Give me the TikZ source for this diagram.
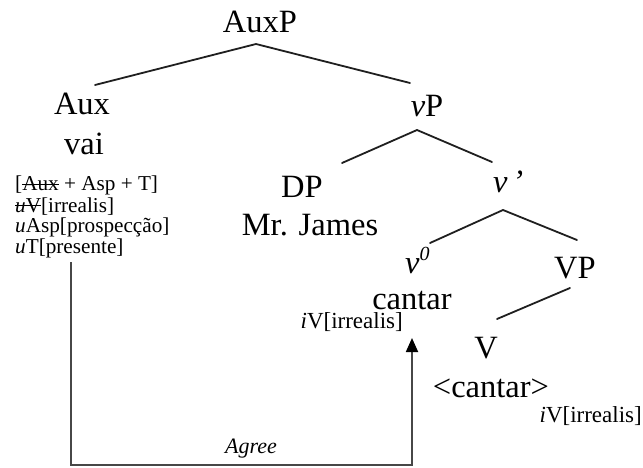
\documentclass[tikz,border=0pt]{standalone}
\usepackage{fontspec}
\setmainfont{Liberation Serif}
\usetikzlibrary{arrows.meta}

% struck-through text
\newcommand\strk[1]{\setbox0\hbox{#1}\rlap{\rule[0.27em]{\wd0}{0.075em}}\box0}

\tikzset{
  lbl/.style={inner sep=0pt, anchor=base, font=\fontsize{32.5}{36}\selectfont},
  feat/.style={inner sep=0pt, anchor=base west, font=\fontsize{21.2}{22}\selectfont},
  ifeat/.style={inner sep=0pt, font=\fontsize{23}{24}\selectfont},
  branch/.style={line width=1.8pt, draw=black!88, line cap=round},
  agreeline/.style={line width=1.8pt, draw=black!72, -{Triangle[length=14pt,width=12pt,fill=black,color=black]}},
}

\begin{document}
\begin{tikzpicture}[x=1pt,y=-1pt]
\useasboundingbox (0,0) rectangle (643,468);

% category and word labels
\node[lbl] (auxp)  at (260,33)  {AuxP};
\node[lbl] (aux)   at (82,115)  {Aux};
\node[lbl] (vai)   at (84,155)  {vai};
\node[lbl] (vp)    at (427,117) {\textit{v}P};
\node[lbl] (dp)    at (302,197) {DP};
\node[lbl] (james) at (310,235) {Mr. James};
\node[lbl,anchor=base west] (vbar) at (493,193) {\textit{v}\hspace{0.15em}\textit{’}};
\node[lbl,anchor=base west] (vzero) at (405,273) {\textit{v}\raisebox{0.38em}{\fontsize{20}{20}\selectfont\textit{0}}};
\node[lbl] (vpp)   at (575,278) {VP};
\node[lbl] (cant)  at (412,309) {cantar};
\node[lbl] (vv)    at (486,358) {V};
\node[lbl] (copy)  at (491,397) {<cantar>};

% feature bundles
\node[feat] (f1) at (15,191) {[\strk{Aux}\ + Asp + T]};
\node[feat] (f2) at (15,212) {\strk{\textit{u}V}[irrealis]};
\node[feat] (f3) at (15,233) {\textit{u}Asp[prospecção]};
\node[feat] (f4) at (15,253) {\textit{u}T[presente]};
\node[ifeat,anchor=base east] (cfeat) at (403,328) {\textit{i}V[irrealis]};
\node[ifeat,anchor=base east] (kfeat) at (642,422) {\textit{i}V[irrealis]};

% branch points
\coordinate (auxp-b) at (256,44);
\coordinate (aux-t)  at (95,85);
\coordinate (vp-t)   at (410,83);
\coordinate (vp-b)   at (417,130);
\coordinate (dp-t)   at (342,163);
\coordinate (vbar-t) at (492,162);
\coordinate (vbar-b) at (503,210);
\coordinate (vzero-t) at (430,243);
\coordinate (vpp-t)  at (577,240);
\coordinate (vpp-b)  at (570,288);
\coordinate (vv-t)   at (497,319);

\draw[branch] (aux-t) -- (auxp-b) -- (vp-t);
\draw[branch] (dp-t) -- (vp-b) -- (vbar-t);
\draw[branch] (vzero-t) -- (vbar-b) -- (vpp-t);
\draw[branch] (vpp-b) -- (vv-t);

% agreement path
\coordinate (probe) at (71,262);
\coordinate (goal)  at (412,338);
\draw[agreeline] (probe) -- (71,465) -| (goal);
\node[inner sep=0pt, anchor=base, font=\fontsize{22}{22}\selectfont\itshape] (agree) at (251,453) {Agree};
\end{tikzpicture}
\end{document}
